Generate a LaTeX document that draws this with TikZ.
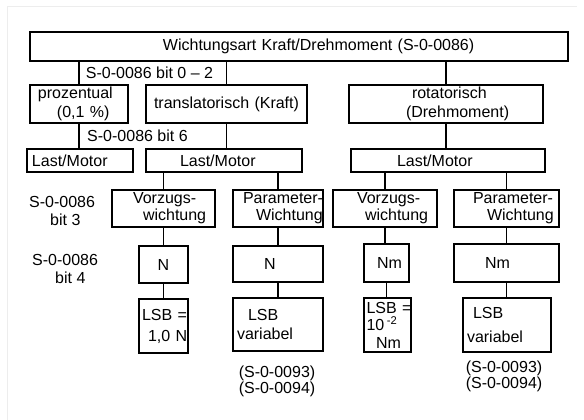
\documentclass[tikz,border=0pt]{standalone}
\usepackage{fontspec}
\setmainfont{Liberation Sans}
\newcommand\tline[2]{\hspace*{#1}\mbox{#2}}
\tikzset{
  box/.style={draw, line width=1.8pt, inner sep=0pt, outer sep=0pt, align=left},
  conn/.style={line width=1.8pt},
  lbl/.style={inner sep=0pt, align=left},
}
\begin{document}
\begin{tikzpicture}[x=1pt, y=-1pt, font=\fontsize{16}{18.5}\selectfont]
\useasboundingbox (0,0) rectangle (584,420);
\draw[black!7, line width=1pt] (7,420) -- (7,7) -- (577,7);

% level 0
\node[box, minimum width=538pt, text width=538pt, minimum height=29pt] (top) at (299,46.5)
  {\tline{133pt}{Wichtungsart Kraft/Drehmoment (S-0-0086)}};

% level 1
\node[box, minimum width=98pt, text width=98pt, minimum height=38pt] (proz) at (79,104)
  {\tline{8pt}{prozentual}\\\tline{27pt}{(0,1 \%)}};
\node[box, minimum width=161pt, text width=161pt, minimum height=38pt, align=center] (trans) at (226.5,104)
  {translatorisch (Kraft)};
\node[box, minimum width=194pt, text width=194pt, minimum height=38pt] (rot) at (446,104)
  {\tline{63pt}{rotatorisch}\\\tline{57pt}{(Drehmoment)}};

% level 2
\node[box, minimum width=106pt, text width=106pt, minimum height=23pt] (lmL) at (80,160.5)
  {\tline{5pt}{Last/Motor}};
\node[box, minimum width=156pt, text width=156pt, minimum height=23pt] (lmM) at (224,160.5)
  {\tline{34pt}{Last/Motor}};
\node[box, minimum width=194pt, text width=194pt, minimum height=23pt] (lmR) at (448,160.5)
  {\tline{46pt}{Last/Motor}};

% level 3
\node[box, minimum width=103pt, text width=103pt, minimum height=37pt, font=\fontsize{16}{17}\selectfont] (b1) at (163.5,208.5)
  {\tline{21pt}{Vorzugs-}\\\tline{31pt}{wichtung}};
\node[box, minimum width=90pt, text width=90pt, minimum height=37pt, font=\fontsize{16}{17}\selectfont] (b2) at (278,208.5)
  {\tline{10pt}{Parameter-}\\\tline{23pt}{Wichtung}};
\node[box, minimum width=104pt, text width=104pt, minimum height=37pt, font=\fontsize{16}{17}\selectfont] (b3) at (385,208.5)
  {\tline{24pt}{Vorzugs-}\\\tline{32pt}{wichtung}};
\node[box, minimum width=105pt, text width=105pt, minimum height=37pt, font=\fontsize{16}{17}\selectfont] (b4) at (506.5,208.5)
  {\tline{19pt}{Parameter-}\\\tline{33pt}{Wichtung}};

% level 4
\node[box, minimum width=49pt, text width=49pt, minimum height=37pt, align=center] (n1) at (163.5,264.5) {N};
\node[box, minimum width=90pt, text width=90pt, minimum height=36pt] (n2) at (278,264) {\tline{31pt}{N}};
\node[box, minimum width=45pt, text width=45pt, minimum height=38pt] (n3) at (386.5,263) {\tline{13pt}{Nm}};
\node[box, minimum width=105pt, text width=105pt, minimum height=38pt] (n4) at (506.5,263) {\tline{31pt}{Nm}};

% level 5
\node[box, minimum width=49pt, text width=49pt, minimum height=54pt, font=\fontsize{16}{21}\selectfont] (l1) at (163.5,326)
  {\tline{3pt}{LSB =}\\\tline{9pt}{1,0 N}\par\vspace*{8pt}};
\node[box, minimum width=90pt, text width=90pt, minimum height=53pt, font=\fontsize{16}{19}\selectfont] (l2) at (278,324.5)
  {\tline{15pt}{LSB}\\\tline{4pt}{variabel}};
\node[box, minimum width=47pt, text width=47pt, minimum height=54pt, font=\fontsize{16}{17.5}\selectfont] (l3) at (387.5,325)
  {\tline{2.5pt}{LSB =}\\\tline{2.5pt}{10\,\textsuperscript{-2}}\\\tline{12pt}{Nm}};
\node[box, minimum width=88pt, text width=88pt, minimum height=54pt, font=\fontsize{16}{24}\selectfont] (l4) at (507,325)
  {\tline{10pt}{LSB}\\\tline{4pt}{variabel}};

% labels
\node[lbl] (lab02) at (149.5,73) {S-0-0086 bit 0 -- 2};
\node[lbl] (lab6) at (137.5,136) {S-0-0086 bit 6};
\node[lbl, anchor=west, font=\fontsize{16}{18}\selectfont] (lab3) at (29,211) {S-0-0086\\\tline{21pt}{bit 3}};
\node[lbl, anchor=west, font=\fontsize{16}{18}\selectfont] (lab4) at (32,269) {S-0-0086\\\tline{23pt}{bit 4}};
\node[lbl, align=center, font=\fontsize{16}{14}\selectfont] (par1) at (277,381) {(S-0-0093)\\(S-0-0094)};
\node[lbl, align=center, font=\fontsize{16}{16}\selectfont] (par2) at (504,376) {(S-0-0093)\\(S-0-0094)};

% connectors
\draw[conn] (proz.north |- top.south) -- (proz.north);
\draw[conn] (trans.north |- top.south) -- (trans.north);
\draw[conn] (rot.north |- top.south) -- (rot.north);
\draw[conn] (proz.south) -- (proz.south |- lmL.north);
\draw[conn] (trans.south) -- (trans.south |- lmM.north);
\draw[conn] (rot.south) -- (rot.south |- lmR.north);
\draw[conn] (b1.north |- lmM.south) -- (b1.north);
\draw[conn] (b2.north |- lmM.south) -- (b2.north);
\draw[conn] (b3.north |- lmR.south) -- (b3.north);
\draw[conn] (b4.north |- lmR.south) -- (b4.north);
\draw[conn] (b1.south) -- (b1.south |- n1.north);
\draw[conn] (b2.south) -- (b2.south |- n2.north);
\draw[conn] (b3.south) -- (b3.south |- n3.north);
\draw[conn] (b4.south) -- (b4.south |- n4.north);
\draw[conn] (n1.south) -- (n1.south |- l1.north);
\draw[conn] (n2.south) -- (n2.south |- l2.north);
\draw[conn] (n3.south) -- (n3.south |- l3.north);
\draw[conn] (n4.south) -- (n4.south |- l4.north);
\end{tikzpicture}
\end{document}
